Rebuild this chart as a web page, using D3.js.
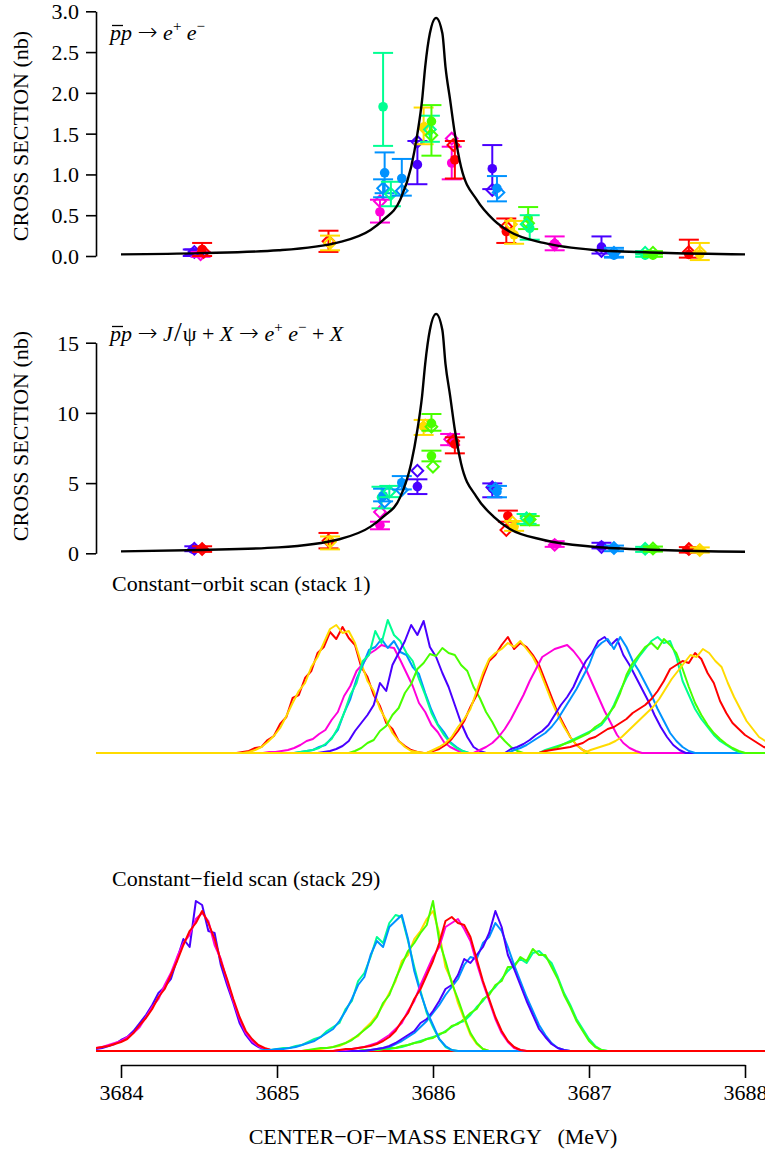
<!DOCTYPE html>
<html><head><meta charset="utf-8">
<script src="https://cdn.jsdelivr.net/npm/d3@7"></script>
<style>
body{margin:0;background:#fff;}
svg{display:block;font-family:"Liberation Serif","Times New Roman",serif;}
</style></head><body>
<svg id="c" width="765" height="1151"></svg>
<script>
// ---------------- DATA ----------------
const colors = ["#FF0000","#FFDB00","#49FF00","#00FF92","#0092FF","#4900FF","#FF00DB"];
const xTicks = [3684,3685,3686,3687,3688];
const eeTicks = [0,0.5,1,1.5,2,2.5,3];
const jpsiTicks = [0,5,10,15];

const curveEnergy = [3684.00,3684.51,3685.01,3685.40,3685.60,3685.68,3685.79,3685.86,3685.90,3685.93,3685.95,3685.98,3686.02,3686.06,3686.08,3686.11,3686.14,3686.18,3686.28,3686.39,3686.49,3686.71,3687.03,3687.46,3688.00];
const eeCurve = [0.02,0.035,0.07,0.17,0.32,0.44,0.69,1.09,1.50,1.91,2.32,2.73,2.92,2.73,2.32,1.91,1.50,1.09,0.69,0.44,0.30,0.16,0.074,0.04,0.02];
const jpsiCurve = [0.14,0.24,0.42,1.0,1.9,2.6,4.0,6.4,8.8,11.2,13.5,15.9,17.05,15.9,13.5,11.2,8.8,6.4,4.0,2.6,1.75,0.95,0.47,0.24,0.11];

// [energy, value, low, high, colour index, marker ('c' filled circle / 'd' open diamond)]
const eePoints = [
 [3684.46,0.04,0.00,0.08,5,'c'],[3684.47,0.05,0.02,0.08,5,'d'],[3684.51,0.02,-0.01,0.05,6,'d'],
 [3684.52,0.08,0.00,0.16,0,'c'],[3684.53,0.05,0.05,0.05,0,'d'],
 [3685.33,0.18,0.05,0.31,0,'d'],[3685.34,0.16,0.07,0.25,1,'d'],
 [3685.66,0.54,0.41,0.69,6,'c'],[3685.66,0.67,0.67,0.67,6,'d'],
 [3685.68,1.83,1.35,2.49,3,'c'],[3685.69,1.02,0.77,1.27,4,'c'],[3685.68,0.83,0.72,0.94,4,'d'],
 [3685.73,0.76,0.61,0.91,3,'d'],[3685.80,0.95,0.74,1.19,4,'c'],[3685.80,0.80,0.80,0.80,4,'d'],
 [3685.90,1.12,0.88,1.41,5,'c'],[3685.90,1.40,1.40,1.40,5,'d'],
 [3685.94,1.58,1.37,1.82,1,'c'],[3685.95,1.56,1.56,1.56,1,'d'],
 [3685.98,1.55,1.40,1.72,3,'d'],[3685.99,1.65,1.23,1.85,2,'c'],[3685.99,1.48,1.48,1.48,2,'d'],
 [3686.12,1.14,0.94,1.34,6,'c'],[3686.12,1.44,1.44,1.44,6,'d'],
 [3686.14,1.18,0.95,1.41,0,'c'],[3686.13,1.36,1.36,1.36,0,'d'],
 [3686.38,1.07,0.82,1.36,5,'c'],[3686.38,0.81,0.81,0.81,5,'d'],
 [3686.41,0.83,0.67,0.98,4,'c'],[3686.42,0.78,0.78,0.78,4,'d'],
 [3686.47,0.30,0.16,0.46,0,'c'],[3686.47,0.36,0.36,0.36,0,'d'],
 [3686.52,0.26,0.15,0.43,1,'c'],[3686.50,0.39,0.39,0.39,1,'d'],
 [3686.61,0.46,0.33,0.60,2,'c'],[3686.62,0.34,0.20,0.50,3,'c'],
 [3686.61,0.40,0.40,0.40,2,'d'],[3686.60,0.39,0.39,0.39,3,'d'],
 [3686.78,0.15,0.07,0.24,6,'c'],[3686.78,0.14,0.14,0.14,6,'d'],
 [3687.08,0.11,0.03,0.24,5,'c'],[3687.08,0.06,0.06,0.06,5,'d'],
 [3687.16,0.01,-0.02,0.07,4,'c'],[3687.16,0.04,-0.01,0.10,4,'d'],
 [3687.36,0.01,-0.01,0.04,3,'c'],[3687.36,0.04,0.02,0.06,3,'d'],
 [3687.41,0.01,-0.01,0.04,2,'c'],[3687.41,0.04,0.02,0.06,2,'d'],
 [3687.64,0.02,-0.02,0.20,0,'c'],[3687.64,0.05,0.05,0.05,0,'d'],
 [3687.71,0.05,-0.05,0.16,1,'d'],[3687.71,0.02,0.02,0.02,1,'c']
];
const jpsiPoints = [
 [3684.46,0.30,0.30,0.30,5,'c'],[3684.47,0.32,0.15,0.50,5,'d'],
 [3684.52,0.32,0.32,0.32,0,'c'],[3684.52,0.30,0.10,0.50,0,'d'],
 [3685.33,0.90,0.35,1.45,0,'d'],[3685.34,0.82,0.28,1.20,1,'d'],
 [3685.66,2.00,1.71,2.25,6,'c'],[3685.66,2.94,2.94,2.94,6,'d'],
 [3685.67,3.99,3.20,4.74,3,'c'],[3685.68,4.10,3.70,4.60,4,'c'],[3685.69,3.68,3.68,3.68,4,'d'],
 [3685.72,4.39,4.00,4.80,3,'d'],[3685.80,5.03,4.55,5.50,4,'c'],[3685.80,4.50,4.50,4.50,4,'d'],
 [3685.90,4.75,4.22,5.27,5,'c'],[3685.90,5.88,5.88,5.88,5,'d'],
 [3685.94,9.02,8.43,9.50,1,'c'],[3685.95,9.10,9.10,9.10,1,'d'],
 [3685.99,9.26,8.73,9.92,2,'c'],[3685.99,9.02,9.02,9.02,2,'d'],
 [3685.99,6.93,6.55,7.31,2,'c'],[3686.00,6.17,6.17,6.17,2,'d'],
 [3686.11,8.12,7.70,8.50,6,'d'],[3686.12,7.90,7.90,7.90,6,'c'],
 [3686.14,7.78,7.12,8.26,0,'c'],[3686.13,8.00,8.00,8.00,0,'d'],
 [3686.38,4.63,3.99,4.98,5,'c'],[3686.38,4.70,4.70,4.70,5,'d'],
 [3686.41,4.39,3.99,4.80,4,'c'],[3686.40,4.60,4.60,4.60,4,'d'],
 [3686.48,2.66,2.25,3.04,0,'c'],[3686.47,1.66,1.66,1.66,0,'d'],
 [3686.52,1.90,1.60,2.30,1,'c'],[3686.51,2.20,2.20,2.20,1,'d'],
 [3686.62,2.32,2.00,2.65,2,'c'],[3686.61,2.30,2.30,2.30,3,'c'],
 [3686.60,2.50,2.10,2.80,3,'d'],[3686.62,2.40,2.40,2.40,2,'d'],
 [3686.78,0.66,0.46,0.86,6,'c'],[3686.78,0.60,0.60,0.60,6,'d'],
 [3687.08,0.52,0.35,0.75,5,'c'],[3687.08,0.45,0.45,0.45,5,'d'],
 [3687.16,0.35,0.15,0.55,4,'c'],[3687.16,0.38,0.38,0.38,4,'d'],
 [3687.36,0.28,0.10,0.46,3,'c'],[3687.36,0.32,0.32,0.32,3,'d'],
 [3687.41,0.30,0.12,0.48,2,'c'],[3687.41,0.35,0.35,0.35,2,'d'],
 [3687.64,0.24,0.05,0.44,0,'c'],[3687.64,0.30,0.30,0.30,0,'d'],
 [3687.71,0.24,0.05,0.42,1,'d'],[3687.71,0.20,0.20,0.20,1,'c']
];

const histBin = 0.04;   // MeV per bin
const histLimits = [3683.84, 3688.13];
// Constant-orbit scan (stack 1)
const orbitColor = [0,1,6,4,3,5,2,0,1,6,5,4,3,2,0,1];
const orbitStart = [3684.78,3684.78,3684.95,3685.15,3685.15,3685.30,3685.50,3686.00,3686.00,3686.30,3686.50,3686.52,3686.72,3686.72,3686.72,3687.01];
const orbitCounts = [
 [1,2,5,6,13,17,29,36,55,58,75,82,100,106,121,114,126,115,108,86,76,58,47,30,24,12,7,3,1],
 [0,1,3,6,11,17,25,37,50,62,70,86,96,110,124,128,120,122,110,90,72,62,44,33,20,12,6,2,1],
 [1,1,2,3,5,8,12,14,19,23,33,41,57,67,82,89,99,103,108,106,105,93,80,67,50,41,28,21,11,6,3],
 [1,2,3,6,8,15,23,40,54,74,88,103,106,114,105,112,101,98,86,79,60,43,29,21,11,6,2],
 [1,2,3,5,9,14,25,40,58,70,92,98,122,110,133,118,112,100,92,74,58,40,28,18,10,5,2],
 [1,2,4,7,12,22,30,38,48,70,62,88,100,112,128,118,132,106,96,80,66,48,30,16,6,2],
 [2,5,10,13,22,27,38,45,60,69,84,90,99,97,105,100,98,88,82,66,55,41,31,19,12,6,2],
 [2,4,8,14,22,32,46,58,76,92,98,108,116,104,110,106,98,88,72,56,40,28,16,8,3],
 [3,6,10,16,26,34,44,62,80,94,100,104,110,106,112,104,96,84,68,52,38,26,16,8,3],
 [3,6,10,16,24,34,46,58,72,84,96,100,104,106,108,102,94,84,70,56,42,30,18,10,5,2],
 [4,6,9,13,18,22,28,38,48,56,66,80,92,100,112,116,108,114,98,88,76,64,52,38,26,16,8,3],
 [3,5,8,12,16,20,26,34,44,54,64,76,88,104,110,114,104,116,106,92,82,70,58,44,32,20,12,6,2],
 [3,5,7,9,12,15,18,21,24,28,36,48,62,75,86,96,104,112,116,110,112,96,72,58,44,34,26,18,12,8,4,1],
 [2,4,6,9,11,14,17,20,26,30,38,46,60,78,90,98,106,110,104,114,108,100,84,66,50,38,28,20,14,9,5,2],
 [2,3,4,5,6,8,10,14,16,20,24,26,30,34,40,44,48,54,62,72,84,88,92,90,100,94,80,70,52,40,30,24,18,14,10,6,4],
 [3,5,7,9,12,16,22,28,34,40,46,54,64,74,82,90,98,96,104,100,92,86,70,56,44,32,24,16,12,8,5]
];
// Constant-field scan (stack 29)
const fieldColor = [5,6,0,3,2,4,5,1,2,3,4,6,0];
const fieldStart = [3683.84,3683.84,3683.84,3685.56,3685.56,3685.60,3685.60,3685.20,3685.20,3684.92,3684.92,3685.40,3685.40];
const fieldCounts = [
 [2,3,5,7,11,14,20,28,36,46,58,64,72,92,112,104,150,146,120,118,86,66,48,28,16,8,4,2,1],
 [3,4,6,8,10,14,18,24,34,44,52,66,78,94,108,116,132,138,130,106,92,70,50,32,18,10,5,2,1],
 [3,4,5,7,9,12,18,26,33,42,54,62,76,90,106,120,128,140,128,112,90,72,52,34,20,12,6,3,1],
 [1,1,1,2,2,3,4,6,8,10,12,14,16,20,24,28,30,36,44,50,58,64,72,80,86,92,88,98,100,94,88,74,58,46,32,22,12,5,1],
 [1,1,1,2,3,3,5,6,8,9,12,13,17,19,25,27,32,38,42,52,56,66,70,84,84,94,90,102,96,96,84,72,56,44,30,20,10,4,1],
 [1,2,3,4,7,10,14,18,24,30,38,46,56,64,72,86,94,92,108,114,128,120,104,86,70,54,40,26,16,8,3,1],
 [1,2,3,5,8,12,16,20,28,32,40,50,62,66,76,92,88,96,104,118,140,124,96,82,66,50,36,22,14,7,3,1],
 [1,1,2,3,4,5,8,12,15,22,28,36,46,58,70,90,96,112,120,132,140,118,84,70,48,32,16,7,2],
 [1,2,3,3,4,6,8,11,16,21,26,34,48,56,72,86,100,108,118,126,150,110,90,68,52,34,18,8,2],
 [1,1,2,3,3,5,6,9,12,14,20,24,28,42,50,70,78,94,114,108,128,136,134,110,84,60,38,24,12,4,1],
 [1,1,2,2,3,4,6,8,10,14,18,22,30,40,52,66,74,96,110,104,124,130,136,112,80,58,40,26,12,5,1],
 [1,1,2,3,4,6,8,12,16,22,28,40,50,66,80,94,104,124,128,132,122,110,88,68,50,32,18,9,3,1],
 [1,2,2,3,4,5,7,10,14,20,30,38,52,62,76,90,108,130,134,128,126,114,92,70,52,34,20,10,4,1]
];

// ---------------- LAYOUT ----------------
const svg = d3.select("#c");
const FONT = 22;
const SERIF = '"Liberation Serif","Times New Roman",serif';
const x = d3.scaleLinear().domain([3684,3688]).range([121,745]);
const yEE = d3.scaleLinear().domain([0,3]).range([256,11.3]);
const yJP = d3.scaleLinear().domain([0,15]).range([553.3,342.7]);
const yOrbit = d3.scaleLinear().domain([0,140]).range([753,613]);
const yField = d3.scaleLinear().domain([0,150]).range([1051,901]);

svg.append("defs").append("clipPath").attr("id","hclip")
  .append("rect").attr("x",96).attr("y",0).attr("width",669).attr("height",1151);

function styleAxis(g){
  g.selectAll("path,line").attr("stroke","#000").attr("stroke-width",1.6);
  g.selectAll("text").attr("fill","#000").style("font-size",FONT+"px").style("font-family",SERIF);
}

function yAxis(scale, ticks, fmt, titleY){
  const g = svg.append("g").attr("transform","translate(96,0)")
    .call(d3.axisLeft(scale).tickValues(ticks).tickFormat(fmt).tickSize(10).tickSizeOuter(0).tickPadding(7));
  styleAxis(g);
  g.selectAll(".tick text").attr("dy","0.34em");
  svg.append("text").attr("transform",`translate(28,${titleY}) rotate(-90)`)
    .attr("text-anchor","middle").style("font-size",FONT+"px").text("CROSS SECTION (nb)");
}

function crossPanel(scale, curveVals, points){
  const line = d3.line().x((d,i)=>x(curveEnergy[i])).y(d=>scale(d)).curve(d3.curveMonotoneX);
  const gp = svg.append("g");
  points.forEach(p=>{
    const [e,v,lo,hi,ci,shape] = p;
    const c = colors[ci];
    const px = x(e);
    if (hi !== lo){
      gp.append("line").attr("x1",px).attr("x2",px).attr("y1",scale(lo)).attr("y2",scale(hi))
        .attr("stroke",c).attr("stroke-width",2);
      [lo,hi].forEach(b=>gp.append("line").attr("x1",px-10).attr("x2",px+10)
        .attr("y1",scale(b)).attr("y2",scale(b)).attr("stroke",c).attr("stroke-width",2));
    }
    if (shape==='c'){
      gp.append("circle").attr("cx",px).attr("cy",scale(v)).attr("r",4.8).attr("fill",c);
    } else {
      gp.append("path").attr("d",d3.symbol(d3.symbolSquare,68)())
        .attr("transform",`translate(${px},${scale(v)}) rotate(45)`)
        .attr("fill","none").attr("stroke",c).attr("stroke-width",2);
    }
  });
  svg.append("path").attr("d",line(curveVals)).attr("fill","none")
    .attr("stroke","#000").attr("stroke-width",2.4);
}

yAxis(yEE, eeTicks, d3.format(".1f"), 136);
crossPanel(yEE, eeCurve, eePoints);
yAxis(yJP, jpsiTicks, d3.format("d"), 436);
crossPanel(yJP, jpsiCurve, jpsiPoints);

// formulas
function formula(y, parts){
  const t = svg.append("text").attr("x",110).attr("y",y).style("font-size",FONT+"px");
  parts.forEach(p=>{
    const s = t.append("tspan").text(p.t);
    if (p.i) s.style("font-style","italic");
    if (p.arrow) s.style("font-family","'DejaVu Sans'").style("font-size","24px").style("font-weight","200");
    if (p.fs) s.style("font-size",p.fs+"px");
    if (p.sup) s.attr("dy",-9).style("font-size","15px");
    if (p.down) s.attr("dy",9);
    if (p.dx) s.attr("dx",p.dx);
  });
  // bar over the antiproton p
  const r = t.node().getExtentOfChar(0);
  svg.append("line").attr("x1",r.x+2).attr("x2",r.x+r.width+2)
    .attr("y1",y-14.5).attr("y2",y-14.5).attr("stroke","#000").attr("stroke-width",1.3);
}
formula(40,[{t:"p",i:1},{t:"p",i:1},{t:" "},{t:"→",arrow:1},{t:" "},{t:"e",i:1},{t:"+",sup:1},{t:"  e",i:1,down:1},{t:"−",sup:1}]);
formula(341,[{t:"p",i:1},{t:"p",i:1},{t:" "},{t:"→",arrow:1},{t:" "},{t:"J",i:1},{t:"/",fs:28,dx:1},{t:"ψ",dx:1},{t:" + "},{t:"X",i:1},{t:" "},{t:"→",arrow:1},{t:" "},{t:"e",i:1},{t:"+",sup:1},{t:"  e",i:1,down:1},{t:"−",sup:1},{t:"  + ",down:1},{t:"X",i:1}]);

// histograms
function histPanel(scale, cols, starts, counts){
  const line = d3.line().x(d=>x(d[0])).y(d=>scale(d[1]));
  const g = svg.append("g").attr("clip-path","url(#hclip)");
  counts.forEach((arr,i)=>{
    const s = starts[i];
    const pts = [[histLimits[0],0],[s-histBin,0]];
    arr.forEach((c,j)=>pts.push([s+j*histBin,c]));
    pts.push([s+arr.length*histBin,0],[histLimits[1],0]);
    g.append("path").attr("d",line(pts)).attr("fill","none")
      .attr("stroke",colors[cols[i]]).attr("stroke-width",2).attr("stroke-linejoin","round");
  });
}
svg.append("text").attr("x",112).attr("y",591).style("font-size",FONT+"px").text("Constant−orbit scan (stack 1)");
histPanel(yOrbit, orbitColor, orbitStart, orbitCounts);
svg.append("text").attr("x",112).attr("y",886).style("font-size",FONT+"px").text("Constant−field scan (stack 29)");
histPanel(yField, fieldColor, fieldStart, fieldCounts);

// x axis
const gx = svg.append("g").attr("transform","translate(0,1065)")
  .call(d3.axisBottom(x).tickValues(xTicks).tickFormat(d3.format("d")).tickSize(13).tickSizeOuter(0).tickPadding(6));
styleAxis(gx);
svg.append("text").attr("x",433).attr("y",1144).attr("text-anchor","middle")
  .style("font-size",FONT+"px").style("white-space","pre").text("CENTER−OF−MASS ENERGY   (MeV)");
</script>
</body></html>
